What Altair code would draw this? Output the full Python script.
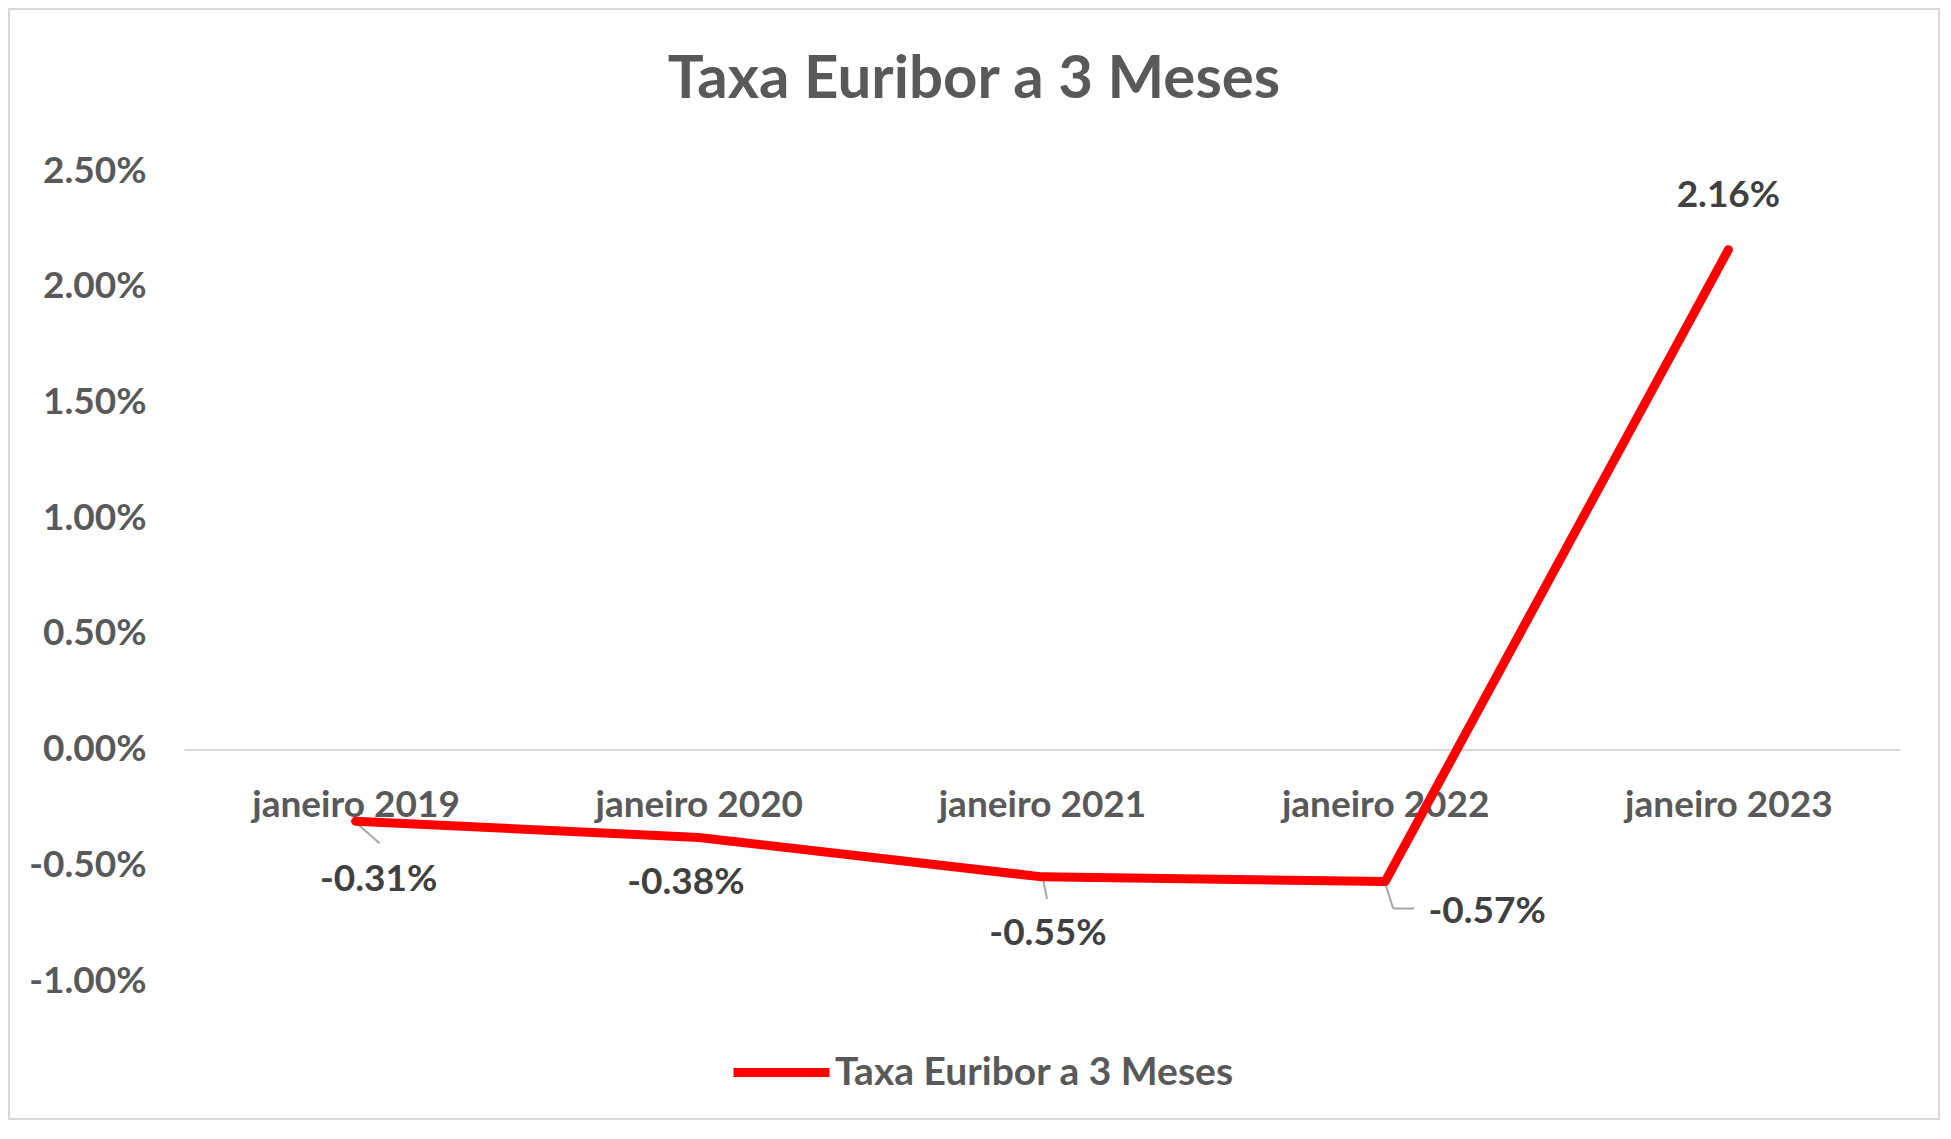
import altair as alt
import pandas as pd

# ---- data ----
categories = ["janeiro 2019", "janeiro 2020", "janeiro 2021", "janeiro 2022", "janeiro 2023"]
rates = [-0.0031, -0.0038, -0.0055, -0.0057, 0.0216]
series_name = "Taxa Euribor a 3 Meses"
y_ticks = [-0.01, -0.005, 0.0, 0.005, 0.01, 0.015, 0.02, 0.025]
y_domain = [-0.01, 0.025]

df = pd.DataFrame({"mes": categories, "taxa": rates, "serie": [series_name] * len(categories)})

# ---- layout / style ----
FONT = "Lato"
TXT = "#595959"
LBL = "#404040"
PLOT_W, PLOT_H = 1716, 810
PAD = {"left": 176, "top": 163, "right": 40, "bottom": 139}
y_zero_px = PLOT_H * (y_domain[1] - 0) / (y_domain[1] - y_domain[0])
x_axis_offset = -(PLOT_H - y_zero_px)

x_scale = alt.Scale(type="point", padding=0.5, domain=categories)
y_scale = alt.Scale(domain=y_domain, nice=False, zero=False)

x_enc = alt.X(
    "mes:N", scale=x_scale, title=None,
    axis=alt.Axis(
        orient="bottom", offset=x_axis_offset, domainColor="#d9d9d9", domainWidth=2,
        ticks=False, tickSize=0, labelPadding=56, labelBaseline="middle", labelAlign="center",
        labelFont=FONT, labelFontSize=37, labelFontWeight="bold", labelColor=TXT,
        labelAngle=0, grid=False, labelOverlap=False, labelLimit=1000,
    ),
)
y_enc = alt.Y(
    "taxa:Q", scale=y_scale, title=None,
    axis=alt.Axis(
        values=y_ticks, format=".2%", domain=False, ticks=False, tickSize=0, grid=False,
        labelPadding=38, labelFont=FONT, labelFontSize=37, labelFontWeight="bold",
        labelColor=TXT, labelFlush=False, labelOverlap=False, labelLimit=1000,
    ),
)

base = alt.Chart(df)

frame = alt.Chart(pd.DataFrame({"f": [0]})).mark_rect(
    fillOpacity=0, stroke="#d9d9d9", strokeWidth=2
).encode(
    x=alt.value(-PAD["left"] + 1), x2=alt.value(PLOT_W + PAD["right"] - 1),
    y=alt.value(-PAD["top"] + 1), y2=alt.value(PLOT_H + PAD["bottom"] - 1),
)

line = base.mark_line(strokeWidth=9, strokeCap="round", strokeJoin="round").encode(
    x=x_enc, y=y_enc,
    color=alt.Color(
        "serie:N", scale=alt.Scale(domain=[series_name], range=["#ff0000"]),
        legend=alt.Legend(
            title=None, orient="none", legendX=545, legendY=849, direction="horizontal",
            symbolType="stroke", symbolStrokeWidth=9, symbolSize=96 * 96,
            labelFont=FONT, labelFontSize=39, labelFontWeight="bold", labelColor=TXT,
            labelOffset=1, labelLimit=1000,
        ),
    ),
)

# data-label placement (pixel offsets from each point, as in the reference)
label_offsets = {
    "janeiro 2019": (23, 59),
    "janeiro 2020": (-13, 45),
    "janeiro 2021": (6, 57),
    "janeiro 2022": (102, 31),
    "janeiro 2023": (0, -54),
}
label_layers = []
for cat, (dx, dy) in label_offsets.items():
    label_layers.append(
        base.transform_filter(alt.datum.mes == cat).mark_text(
            font=FONT, fontSize=37, fontWeight="bold", color=LBL,
            align="center", baseline="middle", dx=dx, dy=dy,
        ).encode(x=alt.X("mes:N", scale=x_scale), y=alt.Y("taxa:Q", scale=y_scale),
                 text=alt.Text("taxa:Q", format=".2%"))
    )

# leader lines (offset segments from each point)
leaders = [
    ("janeiro 2019", 1, 2, 24, 22),
    ("janeiro 2021", 1, 2, 5, 22),
    ("janeiro 2022", 0, 2, 8, 27),
    ("janeiro 2022", 8, 27, 29, 27),
]
leader_layers = []
for cat, x1, y1, x2, y2 in leaders:
    leader_layers.append(
        base.transform_filter(alt.datum.mes == cat).mark_rule(
            color="#a6a6a6", strokeWidth=2,
            xOffset=x1, yOffset=y1, x2Offset=x2, y2Offset=y2,
        ).encode(x=alt.X("mes:N", scale=x_scale), x2="mes:N",
                 y=alt.Y("taxa:Q", scale=y_scale), y2="taxa:Q")
    )

chart = alt.layer(frame, *leader_layers, line, *label_layers).properties(
    width=PLOT_W, height=PLOT_H,
    padding=PAD,
    autosize=alt.AutoSizeParams(type="none"),
    title=alt.TitleParams(
        text=series_name, font=FONT, fontSize=60, fontWeight="bold", color=TXT,
        anchor="middle", frame="bounds", baseline="alphabetic", offset=-88, dy=62,
    ),
).configure(
    locale=alt.Locale(number=alt.NumberLocale(
        decimal=".", thousands=",", grouping=[3], currency=["", ""], minus="-"))
).configure_view(stroke=None)

chart.save("out.html", embed_options={"renderer": "svg", "actions": False})
